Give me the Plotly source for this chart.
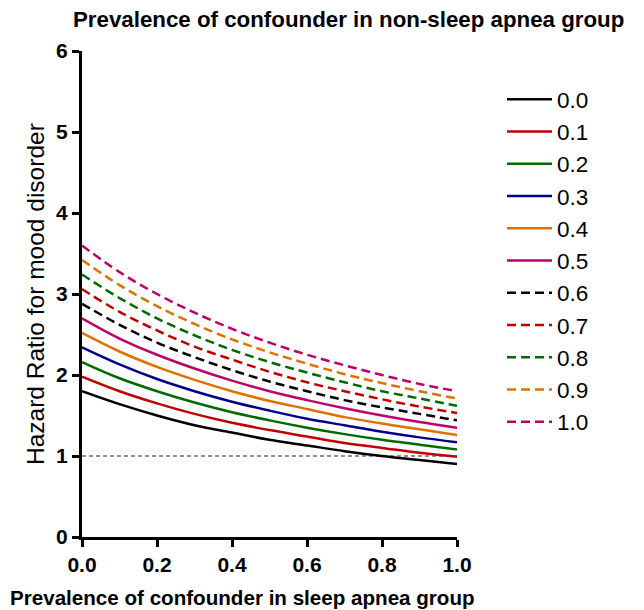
import plotly.graph_objects as go

# Prevalence of confounder in sleep apnea group (x)
x_prev = [0.0, 0.1, 0.2, 0.3, 0.4, 0.5, 0.6, 0.7, 0.8, 0.9, 1.0]

# Legend labels: prevalence in non-sleep apnea group
labels = ["0.0", "0.1", "0.2", "0.3", "0.4", "0.5", "0.6", "0.7", "0.8", "0.9", "1.0"]

hr_00 = [1.80, 1.64, 1.50, 1.38, 1.29, 1.20, 1.13, 1.06, 1.00, 0.95, 0.90]
hr_01 = [1.98, 1.80, 1.65, 1.52, 1.41, 1.32, 1.24, 1.16, 1.10, 1.04, 0.99]
hr_02 = [2.16, 1.96, 1.80, 1.66, 1.54, 1.44, 1.35, 1.27, 1.20, 1.14, 1.08]
hr_03 = [2.34, 2.13, 1.95, 1.80, 1.67, 1.56, 1.46, 1.38, 1.30, 1.23, 1.17]
hr_04 = [2.52, 2.29, 2.10, 1.94, 1.80, 1.68, 1.58, 1.48, 1.40, 1.33, 1.26]
hr_05 = [2.70, 2.45, 2.25, 2.08, 1.93, 1.80, 1.69, 1.59, 1.50, 1.42, 1.35]
hr_06 = [2.88, 2.62, 2.40, 2.22, 2.06, 1.92, 1.80, 1.69, 1.60, 1.52, 1.44]
hr_07 = [3.06, 2.78, 2.55, 2.35, 2.19, 2.04, 1.91, 1.80, 1.70, 1.61, 1.53]
hr_08 = [3.24, 2.95, 2.70, 2.49, 2.31, 2.16, 2.03, 1.91, 1.80, 1.71, 1.62]
hr_09 = [3.42, 3.11, 2.85, 2.63, 2.44, 2.28, 2.14, 2.01, 1.90, 1.80, 1.71]
hr_10 = [3.60, 3.27, 3.00, 2.77, 2.57, 2.40, 2.25, 2.12, 2.00, 1.89, 1.80]

series = [hr_00, hr_01, hr_02, hr_03, hr_04, hr_05, hr_06, hr_07, hr_08, hr_09, hr_10]

reference_x = [0.0, 1.0]
reference_y = [1.0, 1.0]

colors = ["#000000", "#C00000", "#006A00", "#00008F", "#E07000", "#C0006A",
          "#000000", "#C00000", "#006A00", "#E07000", "#C0006A"]

fig = go.Figure()

fig.add_trace(go.Scatter(x=reference_x, y=reference_y, mode="lines",
                         line=dict(color="#909090", width=2, dash="4px,3px"),
                         showlegend=False, hoverinfo="skip"))

for i, (lab, ys) in enumerate(zip(labels, series)):
    fig.add_trace(go.Scatter(
        x=x_prev, y=ys, mode="lines", name=lab,
        line=dict(color=colors[i], width=2.5, shape="spline",
                  dash="solid" if i < 6 else "9px,5px"),
    ))

# page body has an 8px margin; plot area in window: x 82..457, y 51..537
L, T, PW, PH = 74, 43, 375, 486
W, H = 636, 602


def px(xw):
    return (xw - 8 - L) / PW


def py(yw):
    return 1 - (yw - 8 - T) / PH


fig.update_layout(
    width=W, height=H,
    margin=dict(l=L, r=W - L - PW, t=T, b=H - T - PH),
    paper_bgcolor="white", plot_bgcolor="white",
    font=dict(family="Liberation Sans, Arial, sans-serif", color="black"),
    legend=dict(x=px(502), y=py(78), xanchor="left", yanchor="top",
                font=dict(size=22.5), itemwidth=45,
                bgcolor="rgba(0,0,0,0)"),
    xaxis=dict(range=[0, 1], tickvals=[0, 0.2, 0.4, 0.6, 0.8, 1.0],
               ticktext=["0.0", "0.2", "0.4", "0.6", "0.8", "1.0"],
               showline=True, linecolor="black", linewidth=3,
               ticks="outside", ticklen=7, tickwidth=3, tickcolor="black",
               showgrid=False, zeroline=False,
               tickfont=dict(size=21, family="Liberation Sans, Arial", weight="bold")),
    yaxis=dict(range=[0, 6], tickvals=[0, 1, 2, 3, 4, 5, 6],
               showline=True, linecolor="black", linewidth=3,
               ticks="outside", ticklen=7, tickwidth=3, tickcolor="black",
               showgrid=False, zeroline=False,
               tickfont=dict(size=21, family="Liberation Sans, Arial", weight="bold")),
    annotations=[
        dict(text="<b>Prevalence of confounder in non-sleep apnea group</b>",
             xref="paper", yref="paper", x=px(348), y=py(19),
             xanchor="center", yanchor="middle", showarrow=False,
             font=dict(size=22.3)),
        dict(text="<b>Prevalence of confounder in sleep apnea group</b>",
             xref="paper", yref="paper", x=px(242), y=py(597),
             xanchor="center", yanchor="middle", showarrow=False,
             font=dict(size=20.6)),
        dict(text="Hazard Ratio for mood disorder",
             xref="paper", yref="paper", x=px(35), y=py(294),
             xanchor="center", yanchor="middle", showarrow=False, textangle=-90,
             font=dict(size=24.5)),
    ],
)

fig.write_html("out.html")
